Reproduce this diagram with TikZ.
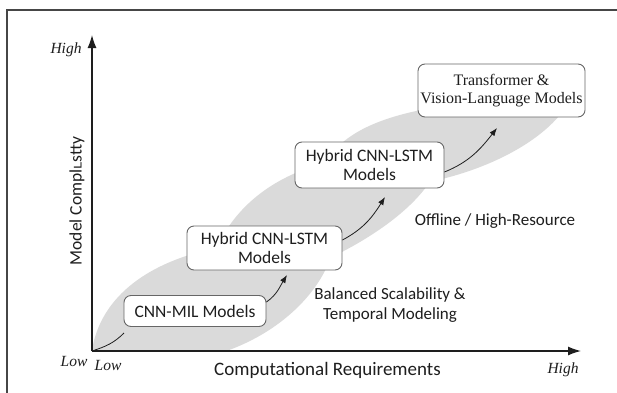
\documentclass[tikz,border=0pt]{standalone}
\usepackage{fontspec}
\setmainfont{Liberation Serif}
\newfontfamily\sansf{Carlito}
\newfontfamily\dejavu{DejaVu Sans}
\usetikzlibrary{arrows.meta}
\definecolor{leaf}{RGB}{218,218,218}
\definecolor{ink}{RGB}{30,30,30}
\definecolor{frame}{RGB}{70,70,70}
\begin{document}
\begin{tikzpicture}[x=1pt,y=1pt,
  every node/.style={text=ink},
  sbox/.style={draw=black!60, line width=0.9pt, rounded corners=7pt, fill=white,
    align=center, inner sep=0pt, font=\sansf\fontsize{17.5}{19.5}\selectfont},
  rbox/.style={draw=black!60, line width=0.9pt, rounded corners=7pt, fill=white,
    align=center, inner sep=0pt, font=\fontsize{16}{18}\selectfont},
  slabel/.style={font=\sansf\fontsize{17}{20}\selectfont, align=center, inner sep=0pt},
  tick/.style={font=\itshape\fontsize{15.5}{17}\selectfont, inner sep=0pt, anchor=base},
  axis/.style={line width=1.3pt, draw=ink, -{Latex[length=13pt,width=9pt]}},
  conn/.style={line width=0.8pt, draw=ink, -{Latex[length=8pt,width=6pt]}},
  plain/.style={line width=0.8pt, draw=ink}]
\useasboundingbox (0,0) rectangle (617,392);
\fill[white] (0,0) rectangle (617,392);
% frame (cut by the page at right and bottom)
\draw[frame, line width=1.6pt] (7,-5) -- (7,382) -- (625,382);
% shaded band of leaves
\begin{scope}
  \clip (92,41) rectangle (617,392);
  \fill[leaf] (92,42) .. controls (200,0) and (320,70) .. (335,150)
                      .. controls (200,160) and (105,120) .. (92,42) -- cycle;
  \fill[leaf] (205,96) .. controls (210,180) and (290,255) .. (440,232)
                       .. controls (425,175) and (310,110) .. (205,96) -- cycle;
  \fill[leaf] (320,207) .. controls (325,270) and (420,295) .. (570,292)
                        .. controls (540,235) and (420,190) .. (320,207) -- cycle;
\end{scope}
% axes
\coordinate (O) at (92,41);
\coordinate (ytip) at (92,357);
\coordinate (xtip) at (581,41);
\draw[axis] (O) -- (ytip);
\draw[axis] (O) -- (xtip);
% boxes
\node[sbox, minimum width=142pt, minimum height=31pt] (mil) at (195,81) {CNN-MIL Models};
\node[sbox, minimum width=155pt, minimum height=44pt] (hyb1) at (264.5,144) {Hybrid CNN-LSTM\\Models};
\node[sbox, minimum width=149pt, minimum height=46pt] (hyb2) at (369.5,227) {Hybrid CNN-LSTM\\Models};
\node[rbox, minimum width=167pt, minimum height=53pt] (tvl) at (501.5,301.5) {Transformer \&\\Vision-Language Models};
% connectors
\coordinate (e1) at (124,59);
\coordinate (e2) at (287,117);
\coordinate (e3) at (385,195);
\coordinate (e4) at (497,264);
\draw[plain] (O) to[out=18,in=225] (e1);
\draw[conn] ([yshift=9pt]mil.east) to[out=35,in=238] (e2);
\draw[conn] ([yshift=8pt]hyb1.east) to[out=28,in=238] (e3);
\draw[conn] ([yshift=-7pt]hyb2.east) to[out=22,in=232] (e4);
% region labels
\node[slabel, anchor=base] (off) at (495,167) {Offline / High-Resource};
\node[slabel] (bal) at (390,87) {Balanced Scalability \&\\Temporal Modeling};
% axis titles
\node[font=\sansf\fontsize{19}{20}\selectfont, inner sep=0pt, anchor=base] (xl) at (327.5,17) {Computational Requirements};
\node[font=\sansf\fontsize{17.5}{20}\selectfont, inner sep=0pt, rotate=90] (yl) at (77,191) {Model Compl{\dejavu\fontsize{14}{16}\selectfont ʟ}stty};
% tick labels
\node[tick] (yh) at (66,339) {High};
\node[tick] (yl0) at (74,26) {Low};
\node[tick] (xl0) at (108,22) {Low};
\node[tick] (xh) at (563,19) {High};
\end{tikzpicture}
\end{document}
